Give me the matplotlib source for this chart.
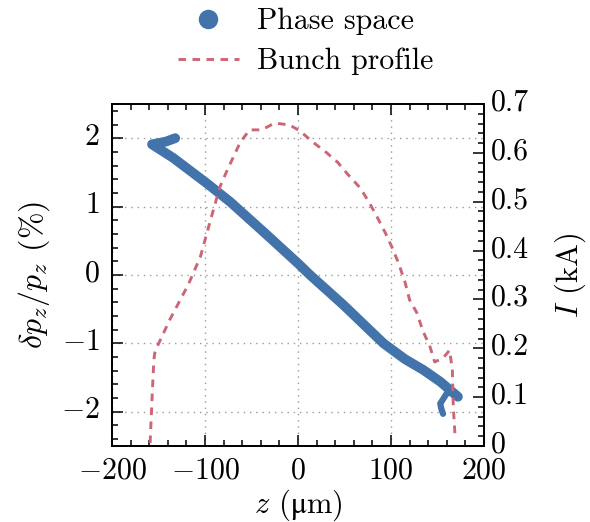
import matplotlib
matplotlib.use("Agg")
import matplotlib.pyplot as plt
import matplotlib.transforms as mtransforms
from matplotlib.lines import Line2D
from matplotlib.ticker import MultipleLocator

plt.rcParams['font.family'] = ['cmr10', 'DejaVu Serif']
plt.rcParams['mathtext.fontset'] = 'cm'
plt.rcParams['axes.formatter.use_mathtext'] = True
plt.rcParams['font.size'] = 21.5

# Longitudinal phase space centre line (z in um, dp/p in %)
ps_z = [-132, -142, -157, -134, -98, -73, -37, 0, 13, 49, 92, 115, 135, 153, 172]
ps_dp = [2.00, 1.95, 1.91, 1.71, 1.34, 1.07, 0.63, 0.17, 0.0, -0.44, -1.0, -1.23, -1.39,
         -1.56, -1.78]
# Tail curling back at the head of the bunch
tail_z = [166, 160, 153, 154, 156]
tail_dp = [-1.72, -1.73, -1.88, -1.95, -2.03]

# Current profile (z in um, I in kA)
prof_z = [-159, -157, -155, -154, -150.5, -138, -118, -105, -95, -84, -76, -62, -52,
          -39, -25, -9, 2, 16, 31, 43, 54, 67, 77, 85, 94, 101, 108, 115, 120, 128,
          134, 142, 147, 156, 163, 166, 167, 169]
prof_I = [0.006, 0.094, 0.176, 0.19, 0.207, 0.258, 0.33, 0.387, 0.456, 0.53, 0.565,
          0.622, 0.647, 0.647, 0.661, 0.657, 0.645, 0.622, 0.60, 0.58, 0.555, 0.528,
          0.497, 0.469, 0.436, 0.407, 0.375, 0.336, 0.299, 0.272, 0.237, 0.203, 0.172,
          0.18, 0.196, 0.156, 0.08, 0.018]

blue = '#4273AA'
rose = '#CC6677'

fig = plt.figure(figsize=(5.9, 5.22), dpi=100)
ax = fig.add_axes([0.1898, 0.1456, 0.6305, 0.6552])
ax2 = ax.twinx()

ax.plot(ps_z, ps_dp, color=blue, lw=7, solid_capstyle='round', solid_joinstyle='round')
ax.plot(tail_z, tail_dp, color=blue, lw=4.5, solid_capstyle='round', solid_joinstyle='round')
ax2.plot(prof_z, prof_I, color=rose, lw=2.1, dashes=(2.6, 2.2))

ax.set_xlim(-200, 200)
ax.set_ylim(-2.5, 2.5)
ax2.set_ylim(0, 0.7)

ax.xaxis.set_major_locator(MultipleLocator(100))
ax.xaxis.set_minor_locator(MultipleLocator(20))
ax.yaxis.set_major_locator(MultipleLocator(1))
ax.yaxis.set_minor_locator(MultipleLocator(0.2))
ax2.yaxis.set_major_locator(MultipleLocator(0.1))
ax2.yaxis.set_minor_locator(MultipleLocator(0.02))
ax2.yaxis.set_major_formatter(plt.FuncFormatter(lambda v, p: '0' if abs(v) < 1e-9 else f'{v:.1f}'))

ax.tick_params(which='both', direction='in', top=True, right=False, width=1.1)
ax.tick_params(which='major', length=8)
ax.tick_params(which='minor', length=4.5)
ax.tick_params(axis='y', pad=9)
ax.tick_params(axis='x', pad=8)
ax2.tick_params(which='both', direction='in', width=1.1)
ax2.tick_params(which='major', length=8, pad=5)
ax2.tick_params(which='minor', length=4.5)

# lift the y tick labels a little so their digits sit centred on the ticks
lift = mtransforms.ScaledTranslation(0, 3 / 72, fig.dpi_scale_trans)
for lab in ax.get_yticklabels() + ax2.get_yticklabels():
    lab.set_transform(lab.get_transform() + lift)

for a in (ax, ax2):
    for s in a.spines.values():
        s.set_linewidth(1.3)

ax.grid(True, which='major', color='#999999', lw=1, dashes=(1, 3.5))
ax.set_axisbelow(True)

ax.set_xlabel('$z$ ($\\mathrm{\u03bc}$m)', fontsize=22, labelpad=2)
ax.set_ylabel(r'$\delta p_z/p_z$ (%)', fontsize=23, labelpad=6)
ax2.set_ylabel(r'$I$ (kA)', fontsize=22, labelpad=17)

handles = [Line2D([], [], ls='none', marker='o', ms=13, color=blue),
           Line2D([], [], color=rose, lw=2.1, dashes=(2.6, 2.2))]
ax.legend(handles, ['Phase space', 'Bunch profile'], loc='lower center',
          bbox_to_anchor=(0.52, 1.032), frameon=False, handlelength=2.05,
          labelspacing=0.42, borderaxespad=0.2, handletextpad=0.6)

fig.savefig('out.png', dpi=100)
